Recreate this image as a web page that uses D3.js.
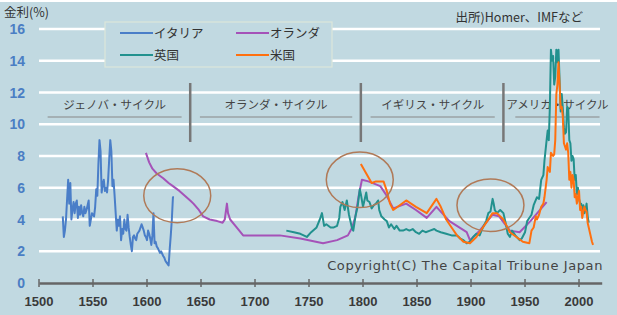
<!DOCTYPE html>
<meta charset="utf-8">
<style type="text/css">
	body { margin: 0; background: #fff; }
	.grid line { stroke: #fff; stroke-width: 2.5; }
	.ylab { font: bold 14px "Liberation Sans", Arial, sans-serif; fill: #4a7ec4; }
	.xlab { font: bold 13px "Liberation Sans", Arial, sans-serif; fill: #3a3a3a; }
	.jp { font-family: "Noto Sans CJK JP", sans-serif; fill: #333; }
	.series { fill: none; stroke-width: 2; stroke-linejoin: round; }
</style>
<svg width="617" height="315"></svg>
<script src="https://d3js.org/d3.v7.min.js"></script>
<script type="text/javascript">
	// yearly rates, [year, %]
	var italy = [[1522,4.2],[1523,2.9],[1524,3.3],[1525,4.0],[1527,6.5],[1528,5.0],[1529,6.3],[1530,4.0],[1531,4.6],[1532,5.1],[1533,4.4],[1534,5.0],[1535,5.2],[1536,4.1],[1537,4.8],[1538,4.3],[1539,4.9],[1540,4.4],[1541,4.2],[1542,4.8],[1543,4.4],[1544,4.6],[1546,5.2],[1547,3.6],[1548,4.0],[1549,4.4],[1551,4.2],[1552,4.8],[1553,5.9],[1554,5.5],[1555,7.5],[1556,9.0],[1557,8.3],[1558,5.7],[1559,6.2],[1560,6.5],[1561,5.8],[1562,6.0],[1563,5.7],[1564,6.5],[1565,7.8],[1566,9.0],[1567,8.3],[1568,6.1],[1569,6.5],[1570,5.5],[1571,4.4],[1572,3.3],[1573,4.0],[1574,3.6],[1575,4.2],[1576,2.7],[1577,3.4],[1578,3.1],[1579,4.0],[1580,3.4],[1581,3.3],[1582,4.3],[1583,3.5],[1584,2.9],[1585,2.4],[1586,2.0],[1587,2.9],[1588,3.0],[1589,2.8],[1590,2.7],[1591,3.1],[1592,3.2],[1593,3.3],[1595,3.7],[1596,3.5],[1597,3.3],[1598,3.0],[1599,2.9],[1600,2.7],[1601,3.3],[1602,3.1],[1603,2.8],[1604,2.4],[1605,3.0],[1606,4.4],[1607,2.5],[1608,2.6],[1609,2.3],[1610,2.2],[1612,1.9],[1613,2.0],[1615,1.7],[1616,1.6],[1617,1.4],[1618,1.3],[1620,1.1],[1621,2.1],[1622,3.0],[1623,4.0],[1624,5.4],[1625,5.4]];
	var holland = [[1599,8.2],[1602,7.6],[1605,7.2],[1609,6.9],[1615,6.6],[1620,6.3],[1624,6.1],[1630,5.8],[1635,5.5],[1640,5.2],[1643,5.0],[1648,4.6],[1652,4.2],[1658,4.0],[1665,3.9],[1670,3.8],[1672,4.0],[1674,5.0],[1675,4.4],[1677,4.0],[1683,3.5],[1689,3.0],[1700,3.0],[1723,3.0],[1742,2.8],[1763,2.5],[1776,2.7],[1786,3.0],[1790,3.5],[1793,4.2],[1796,5.5],[1799,6.5],[1805,6.4],[1816,6.1],[1821,5.6],[1828,4.7],[1840,5.0],[1849,4.6],[1859,4.1],[1868,4.8],[1880,3.9],[1896,3.2],[1899,2.7],[1908,3.3],[1920,4.3],[1926,4.2],[1936,3.3],[1945,3.2],[1955,3.9],[1970,5.1]];
	var britain = [[1729,3.3],[1736,3.2],[1742,3.1],[1748,2.9],[1752,3.2],[1757,3.5],[1760,4.0],[1762,4.4],[1764,3.6],[1766,3.7],[1770,3.5],[1773,3.5],[1776,3.6],[1778,4.1],[1779,4.8],[1781,5.1],[1783,4.6],[1785,5.2],[1787,4.3],[1788,4.0],[1790,3.4],[1791,3.3],[1793,4.2],[1795,4.8],[1797,5.9],[1798,5.6],[1800,4.8],[1801,5.1],[1803,5.7],[1804,5.2],[1806,5.1],[1808,4.7],[1810,4.9],[1812,5.0],[1814,5.2],[1815,4.6],[1817,4.2],[1820,4.0],[1822,3.9],[1824,3.5],[1826,3.7],[1829,3.4],[1831,3.6],[1834,3.3],[1837,3.3],[1840,3.4],[1843,3.3],[1846,3.4],[1849,3.2],[1852,3.1],[1855,3.3],[1858,3.2],[1862,3.3],[1866,3.4],[1868,3.3],[1872,3.2],[1877,3.1],[1882,3.0],[1887,3.0],[1890,2.8],[1893,2.7],[1896,2.5],[1899,2.6],[1902,2.9],[1905,3.1],[1908,3.0],[1911,3.5],[1914,3.9],[1916,4.4],[1918,4.5],[1920,5.3],[1921,5.0],[1922,4.6],[1924,4.4],[1927,4.6],[1930,4.4],[1932,3.8],[1934,3.1],[1936,2.9],[1938,3.3],[1941,3.0],[1945,2.7],[1947,2.8],[1950,3.2],[1952,3.9],[1953,4.0],[1956,4.3],[1958,4.9],[1961,5.4],[1963,5.3],[1965,6.5],[1967,6.8],[1968,7.7],[1970,9.0],[1971,9.6],[1972,9.0],[1973,11.1],[1974,14.7],[1975,14.0],[1976,14.3],[1977,12.5],[1978,13.0],[1979,14.7],[1980,13.9],[1981,14.7],[1982,12.8],[1983,10.8],[1984,11.9],[1985,11.0],[1986,9.8],[1987,9.4],[1988,9.5],[1989,11.1],[1990,11.0],[1991,9.0],[1992,8.8],[1993,7.7],[1994,8.0],[1995,7.8],[1996,6.5],[1997,6.8],[1998,5.6],[1999,6.0],[2000,5.3],[2001,5.0],[2002,5.0],[2003,4.6],[2004,4.9],[2005,4.4],[2006,4.6],[2007,5.0],[2008,4.2],[2009,3.8]];
	var usa = [[1798,7.5],[1803,6.9],[1808,6.3],[1812,6.4],[1819,6.4],[1822,5.8],[1825,5.0],[1828,4.6],[1834,4.9],[1840,5.2],[1849,4.8],[1859,4.4],[1868,5.3],[1872,4.8],[1877,4.0],[1882,3.5],[1887,3.0],[1893,2.6],[1899,2.5],[1905,2.9],[1911,3.5],[1918,4.2],[1920,4.4],[1924,4.4],[1930,4.0],[1933,3.6],[1936,3.2],[1942,2.9],[1948,2.6],[1954,2.5],[1956,3.3],[1958,3.5],[1960,4.2],[1961,4.0],[1963,4.3],[1965,4.8],[1967,5.0],[1968,5.4],[1970,6.5],[1971,7.3],[1973,7.0],[1974,8.2],[1976,8.0],[1977,8.1],[1978,9.0],[1979,11.9],[1980,12.5],[1981,13.9],[1982,12.5],[1983,11.0],[1984,11.1],[1985,10.5],[1986,8.8],[1987,8.6],[1988,8.4],[1989,8.8],[1990,8.2],[1991,6.5],[1992,7.0],[1993,6.0],[1994,6.8],[1995,6.5],[1996,5.4],[1997,5.6],[1998,5.0],[1999,5.4],[2000,5.8],[2001,4.6],[2002,4.8],[2003,4.1],[2004,4.5],[2005,4.8],[2006,4.6],[2007,4.5],[2008,3.8],[2009,3.5],[2010,3.2],[2011,2.9],[2012,2.6],[2013,2.4]];

	var seriesNames = ["イタリア", "オランダ", "英国", "米国"];
	var seriesColors = ["#4a7ec8", "#a552b8", "#22918e", "#ff700f"];
	var xTicks = [1500,1550,1600,1650,1700,1750,1800,1850,1900,1950,2000];
	var yTicks = [0,2,4,6,8,10,12,14,16];
	// cycle labels: [from year, to year, label]
	var cycles = [[1508,1632,"ジェノバ・サイクル"],[1649,1790,"オランダ・サイクル"],[1807,1922,"イギリス・サイクル"],[1941,2019,"アメリカ・サイクル"]];
	var cycleBreaks = [1640, 1798, 1930];
	// circled periods: [centre year, centre rate, half width years, half height rate]
	var circles = [[1628,5.5,31,1.7],[1797,6.5,31,1.75],[1918,4.9,31,1.65]];

	var svg = d3.select("svg");
	var x = d3.scaleLinear().domain([1500, 2021]).range([39, 601.7]);
	var y = d3.scaleLinear().domain([0, 16]).range([283, 29]);

	svg.append("rect").attr("x",0).attr("y",2).attr("width",617).attr("height",313).attr("fill","#c1d9e1");

	svg.append("g").attr("class","grid").selectAll("line").data(yTicks.filter(function(d){return d>0})).enter().append("line")
		.attr("x1",x(1500)).attr("x2",600).attr("y1",function(d){return y(d)}).attr("y2",function(d){return y(d)});

	svg.selectAll(".ylab").data(yTicks).enter().append("text").attr("class","ylab")
		.attr("x",25).attr("y",function(d){return y(d)+5}).attr("text-anchor","end").text(function(d){return d});

	// x axis
	var xa = svg.append("g").attr("transform","translate(0,"+y(0)+")")
		.call(d3.axisBottom(x).tickValues(xTicks).tickSize(0).tickFormat(""));
	xa.select(".domain").attr("stroke","#666").attr("stroke-width",2.5);
	xa.selectAll(".tick line").remove();
	svg.append("g").selectAll("line").data(xTicks).enter().append("line")
		.attr("x1",function(d){return x(d)}).attr("x2",function(d){return x(d)})
		.attr("y1",y(0)-4).attr("y2",y(0)+4).attr("stroke","#666").attr("stroke-width",1.5);
	svg.selectAll(".xlab").data(xTicks).enter().append("text").attr("class","xlab")
		.attr("x",function(d){return x(d)}).attr("y",306).attr("text-anchor","middle").text(function(d){return d});

	// cycle headers
	svg.append("g").selectAll("line").data(cycleBreaks).enter().append("line")
		.attr("x1",function(d){return x(d)}).attr("x2",function(d){return x(d)})
		.attr("y1",83).attr("y2",142).attr("stroke","#777").attr("stroke-width",2.5);
	svg.append("g").selectAll("line").data(cycles).enter().append("line")
		.attr("x1",function(d){return x(d[0])}).attr("x2",function(d){return x(d[1])})
		.attr("y1",117).attr("y2",117).attr("stroke","#888").attr("stroke-width",1.2);
	svg.selectAll(".cyc").data(cycles).enter().append("text").attr("class","jp cyc")
		.attr("x",function(d){return (x(d[0])+x(d[1]))/2}).attr("y",109).attr("text-anchor","middle")
		.style("font-size","11.5px").style("fill","#444").text(function(d){return d[2]});

	var line = d3.line().x(function(d){return x(d[0])}).y(function(d){return y(d[1])});
	[italy, holland, britain, usa].forEach(function(s, i){
		svg.append("path").datum(s).attr("class","series").attr("d",line)
			.attr("stroke",seriesColors[i]).attr("stroke-width", i==3 ? 2.4 : 2);
	});

	svg.append("g").selectAll("ellipse").data(circles).enter().append("ellipse")
		.attr("cx",function(d){return x(d[0])}).attr("cy",function(d){return y(d[1])})
		.attr("rx",function(d){return x(d[0]+d[2])-x(d[0])}).attr("ry",function(d){return y(d[1]-d[3])-y(d[1])})
		.attr("fill","none").attr("stroke","#b07a58").attr("stroke-width",1.5);

	// legend
	var lg = svg.append("g");
	lg.append("rect").attr("x",105).attr("y",22).attr("width",227).attr("height",45)
		.attr("fill","#c1d9e1").attr("stroke","#dde6da").attr("stroke-width",1.2);
	seriesNames.forEach(function(n, i){
		var lx = 120 + (i%2)*116, ly = 33 + Math.floor(i/2)*22;
		lg.append("line").attr("x1",lx).attr("x2",lx+33).attr("y1",ly).attr("y2",ly)
			.attr("stroke",seriesColors[i]).attr("stroke-width",2);
		lg.append("text").attr("class","jp").attr("x",lx+34).attr("y",ly+4.5).style("font-size","12.5px").text(n);
	});

	svg.append("text").attr("class","jp").attr("x",4).attr("y",17).style("font-size","12.5px").text("金利(%)");
	svg.append("text").attr("class","jp").attr("x",583).attr("y",22).attr("text-anchor","end")
		.style("font-size","12.5px").text("出所)Homer、IMFなど");
	svg.append("text").attr("x",603).attr("y",270).attr("text-anchor","end")
		.style("font","13px 'DejaVu Sans', sans-serif").style("letter-spacing","0.6px").attr("fill","#444")
		.text("Copyright(C) The Capital Tribune Japan");
</script>
